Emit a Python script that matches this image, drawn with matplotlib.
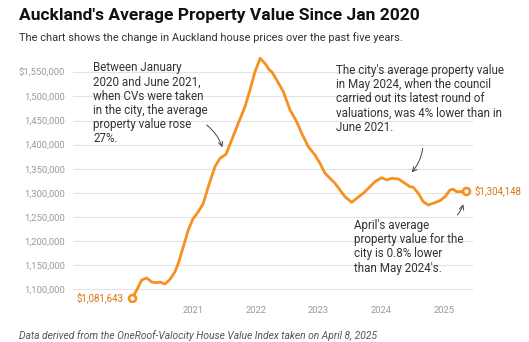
import matplotlib
matplotlib.use("Agg")
import matplotlib.pyplot as plt
from matplotlib.ticker import FuncFormatter

plt.rcParams['font.family'] = ['Roboto', 'DejaVu Sans']

# ---------------------------------------------------------------------------
# Datos (año decimal, valor medio en NZD)
# ---------------------------------------------------------------------------
anios = [2020.033, 2020.104, 2020.183, 2020.263, 2020.343, 2020.422, 2020.475,
         2020.554, 2020.634, 2020.713, 2020.766, 2020.846, 2020.925, 2020.995,
         2021.084, 2021.164, 2021.244, 2021.350, 2021.430, 2021.525, 2021.616,
         2021.721, 2021.828, 2021.908, 2021.987, 2022.040, 2022.067, 2022.119,
         2022.146, 2022.215, 2022.253, 2022.333, 2022.438, 2022.545, 2022.651,
         2022.731, 2022.836, 2022.943, 2023.022, 2023.102, 2023.182, 2023.261,
         2023.341, 2023.420, 2023.527, 2023.607, 2023.712, 2023.818, 2023.898,
         2024.005, 2024.084, 2024.164, 2024.269, 2024.376, 2024.455, 2024.508,
         2024.588, 2024.667, 2024.747, 2024.826, 2024.933, 2025.013, 2025.092,
         2025.145, 2025.199, 2025.279, 2025.347]
valores = [1081643, 1098550, 1119300, 1123400, 1115100, 1113700, 1115100,
           1111000, 1120700, 1136500, 1153900, 1188300, 1223000, 1245200,
           1260900, 1278400, 1312800, 1354300, 1371700, 1380000, 1409600,
           1444300, 1478700, 1513300, 1551300, 1568700, 1579000, 1572000,
           1568700, 1554800, 1551300, 1534100, 1509800, 1471900, 1447600,
           1423500, 1395700, 1378500, 1361300, 1340600, 1330200, 1319800,
           1305900, 1292000, 1280400, 1288700, 1299100, 1312800, 1323200,
           1331500, 1326700, 1330200, 1328800, 1319800, 1312800, 1311500,
           1299100, 1281700, 1274800, 1278400, 1283800, 1292000, 1305900,
           1307400, 1302400, 1302400, 1304148]

ticks_y = [1100000, 1150000, 1200000, 1250000, 1300000, 1350000,
           1400000, 1450000, 1500000, 1550000]
ticks_x = [2021, 2022, 2023, 2024, 2025]

NARANJA = "#f7901e"
NARANJA_TXT = "#d9730d"
GRIS = "#9a9a9a"
TEXTO = "#333333"

fig = plt.figure(figsize=(5.29, 3.42), dpi=100)
ax = fig.add_axes([73 / 529, 1 - 302 / 342, 400 / 529, 250 / 342])

ax.plot(anios, valores, color=NARANJA, lw=2.0, solid_capstyle="round",
        solid_joinstyle="round", zorder=3)
for xi, yi in [(anios[0], valores[0]), (anios[-1], valores[-1])]:
    ax.plot(xi, yi, marker="o", ms=5, mfc="white", mec=NARANJA, mew=1.9, zorder=4)

ax.set_xlim(2019.089, 2025.459)
ax.set_ylim(1073660, 1592100)

ax.set_yticks(ticks_y)
ax.yaxis.set_major_formatter(FuncFormatter(
    lambda v, p: ("$" if v == ticks_y[-1] else "") + f"{int(v):,}"))
ax.set_xticks(ticks_x)
ax.tick_params(axis="both", length=0, labelsize=6.8, colors=GRIS)
ax.tick_params(axis="y", pad=6)
ax.tick_params(axis="x", pad=3)
ax.grid(axis="y", color="#e3e3e3", lw=0.8)
ax.set_axisbelow(True)
for s in ax.spines.values():
    s.set_visible(False)

# Etiquetas de valores inicial y final
ax.annotate(f"${valores[0]:,}", (anios[0], valores[0]), xytext=(-6, 0),
            textcoords="offset points", ha="right", va="center",
            color=NARANJA_TXT, fontsize=6.9)
ax.annotate(f"${valores[-1]:,}", (anios[-1], valores[-1]), xytext=(6, 0),
            textcoords="offset points", ha="left", va="center",
            color=NARANJA_TXT, fontsize=6.9)

# Textos de anotación (en píxeles de la figura)
def px(x, y):
    return (x / 529, 1 - y / 342)

fig.text(*px(93, 61.5), "Between January\n2020 and June 2021,\nwhen CVs were taken\n"
         "in the city, the average\nproperty value rose\n27%.",
         fontsize=8.4, color=TEXTO, va="top", ha="left", linespacing=1.12)
fig.text(*px(336, 64), "The city's average property value\nin May 2024, when the council\n"
         "carried out its latest round of\nvaluations, was 4% lower than in\nJune 2021.",
         fontsize=8.4, color=TEXTO, va="top", ha="left", linespacing=1.12)
fig.text(*px(354, 219), "April's average\nproperty value for the\ncity is 0.8% lower\n"
         "than May 2024's.",
         fontsize=8.4, color=TEXTO, va="top", ha="left", linespacing=1.12)

flecha = dict(arrowstyle="->", color="#444444", lw=0.7, shrinkA=0, shrinkB=0)
fig.add_artist(matplotlib.patches.FancyArrowPatch(
    px(206.7, 125), px(222.3, 147.3), connectionstyle="arc3,rad=-0.15",
    transform=fig.transFigure, **flecha, mutation_scale=8))
fig.add_artist(matplotlib.patches.FancyArrowPatch(
    px(422.7, 148.3), px(411.7, 172.3), connectionstyle="arc3,rad=-0.15",
    transform=fig.transFigure, **flecha, mutation_scale=8))
fig.add_artist(matplotlib.patches.FancyArrowPatch(
    px(457.3, 215), px(463.3, 204.3), connectionstyle="arc3,rad=0.1",
    transform=fig.transFigure, **flecha, mutation_scale=8))

# Título, subtítulo y fuente
fig.text(*px(19, 20), "Auckland's Average Property Value Since Jan 2020",
         fontsize=12.5, fontweight="bold", color="#111111", ha="left", va="baseline")
fig.text(*px(19, 38), "The chart shows the change in Auckland house prices over the past five years.",
         fontsize=7.9, color=TEXTO, ha="left", va="center")
fig.text(*px(19, 336), "Data derived from the OneRoof-Valocity House Value Index taken on April 8, 2025",
         fontsize=7.4, style="italic", color="#555555", ha="left", va="center")

fig.savefig("out.png", dpi=100)
